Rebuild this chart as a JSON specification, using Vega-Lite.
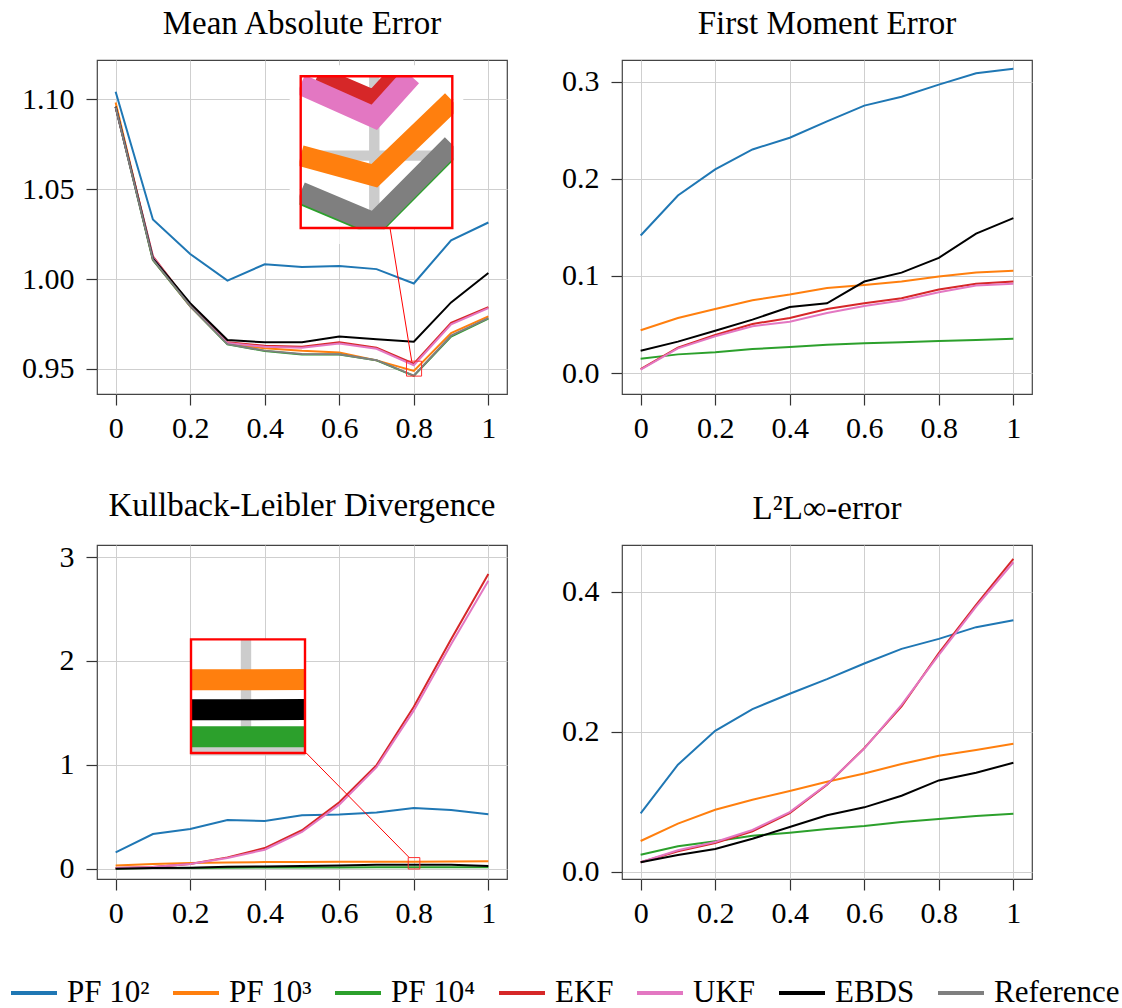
{
  "$schema": "https://vega.github.io/schema/vega-lite/v6.json",
  "padding": {"left": 9, "top": 7, "right": 2, "bottom": 2},
  "config": {
    "font": "Liberation Serif",
    "view": {"stroke": "#444", "strokeWidth": 1.2},
    "axis": {"labelFont": "Liberation Serif", "labelFontSize": 30, "labelColor": "#000", "tickColor": "#333", "tickSize": 11, "tickWidth": 1.2, "domain": false, "gridColor": "#cfcfcf", "gridWidth": 1, "labelPadding": 8, "title": null},
    "axisY": {"labelPadding": 12},
    "title": {"font": "Liberation Serif", "fontSize": 33, "fontWeight": "normal", "color": "#000", "frame": "group", "offset": 19},
    "legend": {"direction": "horizontal", "columns": 7, "symbolType": "stroke", "symbolStrokeWidth": 4, "symbolSize": 2116, "labelFont": "Liberation Serif", "labelFontSize": 31, "labelColor": "#000", "labelOffset": 8, "columnPadding": 15, "title": null, "padding": 0}
  },
  "datasets": {
    "mae": [
      {"method": "PF 10²", "x": 0, "v": 1.1041}, {"method": "PF 10²", "x": 0.1, "v": 1.0331}, {"method": "PF 10²", "x": 0.2, "v": 1.0139}, {"method": "PF 10²", "x": 0.3, "v": 0.9991}, {"method": "PF 10²", "x": 0.4, "v": 1.0082}, {"method": "PF 10²", "x": 0.5, "v": 1.0067}, {"method": "PF 10²", "x": 0.6, "v": 1.0072}, {"method": "PF 10²", "x": 0.7, "v": 1.0055}, {"method": "PF 10²", "x": 0.8, "v": 0.9975}, {"method": "PF 10²", "x": 0.9, "v": 1.0215}, {"method": "PF 10²", "x": 1, "v": 1.0314},
      {"method": "PF 10³", "x": 0, "v": 1.0981}, {"method": "PF 10³", "x": 0.1, "v": 1.0108}, {"method": "PF 10³", "x": 0.2, "v": 0.9848}, {"method": "PF 10³", "x": 0.3, "v": 0.9642}, {"method": "PF 10³", "x": 0.4, "v": 0.9615}, {"method": "PF 10³", "x": 0.5, "v": 0.9601}, {"method": "PF 10³", "x": 0.6, "v": 0.9592}, {"method": "PF 10³", "x": 0.7, "v": 0.9548}, {"method": "PF 10³", "x": 0.8, "v": 0.9489}, {"method": "PF 10³", "x": 0.9, "v": 0.9700}, {"method": "PF 10³", "x": 1, "v": 0.9792},
      {"method": "PF 10⁴", "x": 0, "v": 1.0957}, {"method": "PF 10⁴", "x": 0.1, "v": 1.0105}, {"method": "PF 10⁴", "x": 0.2, "v": 0.9850}, {"method": "PF 10⁴", "x": 0.3, "v": 0.9637}, {"method": "PF 10⁴", "x": 0.4, "v": 0.9600}, {"method": "PF 10⁴", "x": 0.5, "v": 0.9580}, {"method": "PF 10⁴", "x": 0.6, "v": 0.9580}, {"method": "PF 10⁴", "x": 0.7, "v": 0.9548}, {"method": "PF 10⁴", "x": 0.8, "v": 0.9462}, {"method": "PF 10⁴", "x": 0.9, "v": 0.9680}, {"method": "PF 10⁴", "x": 1, "v": 0.9780},
      {"method": "EKF", "x": 0, "v": 1.0957}, {"method": "EKF", "x": 0.1, "v": 1.0126}, {"method": "EKF", "x": 0.2, "v": 0.9856}, {"method": "EKF", "x": 0.3, "v": 0.9648}, {"method": "EKF", "x": 0.4, "v": 0.9629}, {"method": "EKF", "x": 0.5, "v": 0.9624}, {"method": "EKF", "x": 0.6, "v": 0.9648}, {"method": "EKF", "x": 0.7, "v": 0.9618}, {"method": "EKF", "x": 0.8, "v": 0.9530}, {"method": "EKF", "x": 0.9, "v": 0.9756}, {"method": "EKF", "x": 1, "v": 0.9843},
      {"method": "UKF", "x": 0, "v": 1.0955}, {"method": "UKF", "x": 0.1, "v": 1.0122}, {"method": "UKF", "x": 0.2, "v": 0.9852}, {"method": "UKF", "x": 0.3, "v": 0.9645}, {"method": "UKF", "x": 0.4, "v": 0.9623}, {"method": "UKF", "x": 0.5, "v": 0.9618}, {"method": "UKF", "x": 0.6, "v": 0.9641}, {"method": "UKF", "x": 0.7, "v": 0.9612}, {"method": "UKF", "x": 0.8, "v": 0.9521}, {"method": "UKF", "x": 0.9, "v": 0.9748}, {"method": "UKF", "x": 1, "v": 0.9838},
      {"method": "EBDS", "x": 0, "v": 1.0957}, {"method": "EBDS", "x": 0.1, "v": 1.0115}, {"method": "EBDS", "x": 0.2, "v": 0.9866}, {"method": "EBDS", "x": 0.3, "v": 0.9661}, {"method": "EBDS", "x": 0.4, "v": 0.9648}, {"method": "EBDS", "x": 0.5, "v": 0.9648}, {"method": "EBDS", "x": 0.6, "v": 0.9680}, {"method": "EBDS", "x": 0.7, "v": 0.9665}, {"method": "EBDS", "x": 0.8, "v": 0.9652}, {"method": "EBDS", "x": 0.9, "v": 0.9870}, {"method": "EBDS", "x": 1, "v": 1.0033},
      {"method": "Reference", "x": 0, "v": 1.0955}, {"method": "Reference", "x": 0.1, "v": 1.0108}, {"method": "Reference", "x": 0.2, "v": 0.9850}, {"method": "Reference", "x": 0.3, "v": 0.9638}, {"method": "Reference", "x": 0.4, "v": 0.9602}, {"method": "Reference", "x": 0.5, "v": 0.9583}, {"method": "Reference", "x": 0.6, "v": 0.9582}, {"method": "Reference", "x": 0.7, "v": 0.9549}, {"method": "Reference", "x": 0.8, "v": 0.9463}, {"method": "Reference", "x": 0.9, "v": 0.9685}, {"method": "Reference", "x": 1, "v": 0.9783}
    ],
    "mae_inset": [
      {"method": "PF 10³", "x": 0.78034, "v": 0.9500}, {"method": "PF 10³", "x": 0.8, "v": 0.9489}, {"method": "PF 10³", "x": 0.82084, "v": 0.9530},
      {"method": "PF 10⁴", "x": 0.78034, "v": 0.9479}, {"method": "PF 10⁴", "x": 0.8, "v": 0.9462}, {"method": "PF 10⁴", "x": 0.82084, "v": 0.9505},
      {"method": "EKF", "x": 0.78477, "v": 0.95434}, {"method": "EKF", "x": 0.8, "v": 0.9530}, {"method": "EKF", "x": 0.80593, "v": 0.95434},
      {"method": "UKF", "x": 0.78034, "v": 0.95389}, {"method": "UKF", "x": 0.8, "v": 0.9521}, {"method": "UKF", "x": 0.80987, "v": 0.95434},
      {"method": "Reference", "x": 0.78034, "v": 0.9480}, {"method": "Reference", "x": 0.8, "v": 0.9463}, {"method": "Reference", "x": 0.82084, "v": 0.9506}
    ],
    "fme": [
      {"method": "PF 10²", "x": 0, "v": 0.1416}, {"method": "PF 10²", "x": 0.1, "v": 0.1828}, {"method": "PF 10²", "x": 0.2, "v": 0.2096}, {"method": "PF 10²", "x": 0.3, "v": 0.2302}, {"method": "PF 10²", "x": 0.4, "v": 0.2423}, {"method": "PF 10²", "x": 0.5, "v": 0.2591}, {"method": "PF 10²", "x": 0.6, "v": 0.2753}, {"method": "PF 10²", "x": 0.7, "v": 0.2845}, {"method": "PF 10²", "x": 0.8, "v": 0.2969}, {"method": "PF 10²", "x": 0.9, "v": 0.3086}, {"method": "PF 10²", "x": 1, "v": 0.3134},
      {"method": "PF 10³", "x": 0, "v": 0.0440}, {"method": "PF 10³", "x": 0.1, "v": 0.0567}, {"method": "PF 10³", "x": 0.2, "v": 0.0660}, {"method": "PF 10³", "x": 0.3, "v": 0.0749}, {"method": "PF 10³", "x": 0.4, "v": 0.0808}, {"method": "PF 10³", "x": 0.5, "v": 0.0876}, {"method": "PF 10³", "x": 0.6, "v": 0.0907}, {"method": "PF 10³", "x": 0.7, "v": 0.0942}, {"method": "PF 10³", "x": 0.8, "v": 0.0993}, {"method": "PF 10³", "x": 0.9, "v": 0.1034}, {"method": "PF 10³", "x": 1, "v": 0.1052},
      {"method": "PF 10⁴", "x": 0, "v": 0.0148}, {"method": "PF 10⁴", "x": 0.1, "v": 0.0192}, {"method": "PF 10⁴", "x": 0.2, "v": 0.0213}, {"method": "PF 10⁴", "x": 0.3, "v": 0.0247}, {"method": "PF 10⁴", "x": 0.4, "v": 0.0268}, {"method": "PF 10⁴", "x": 0.5, "v": 0.0292}, {"method": "PF 10⁴", "x": 0.6, "v": 0.0306}, {"method": "PF 10⁴", "x": 0.7, "v": 0.0316}, {"method": "PF 10⁴", "x": 0.8, "v": 0.0330}, {"method": "PF 10⁴", "x": 0.9, "v": 0.0340}, {"method": "PF 10⁴", "x": 1, "v": 0.0354},
      {"method": "EKF", "x": 0, "v": 0.0041}, {"method": "EKF", "x": 0.1, "v": 0.0261}, {"method": "EKF", "x": 0.2, "v": 0.0392}, {"method": "EKF", "x": 0.3, "v": 0.0505}, {"method": "EKF", "x": 0.4, "v": 0.0567}, {"method": "EKF", "x": 0.5, "v": 0.0660}, {"method": "EKF", "x": 0.6, "v": 0.0718}, {"method": "EKF", "x": 0.7, "v": 0.0770}, {"method": "EKF", "x": 0.8, "v": 0.0859}, {"method": "EKF", "x": 0.9, "v": 0.0918}, {"method": "EKF", "x": 1, "v": 0.0942},
      {"method": "UKF", "x": 0, "v": 0.0034}, {"method": "UKF", "x": 0.1, "v": 0.0254}, {"method": "UKF", "x": 0.2, "v": 0.0378}, {"method": "UKF", "x": 0.3, "v": 0.0481}, {"method": "UKF", "x": 0.4, "v": 0.0529}, {"method": "UKF", "x": 0.5, "v": 0.0619}, {"method": "UKF", "x": 0.6, "v": 0.0691}, {"method": "UKF", "x": 0.7, "v": 0.0746}, {"method": "UKF", "x": 0.8, "v": 0.0832}, {"method": "UKF", "x": 0.9, "v": 0.0900}, {"method": "UKF", "x": 1, "v": 0.0918},
      {"method": "EBDS", "x": 0, "v": 0.0230}, {"method": "EBDS", "x": 0.1, "v": 0.0323}, {"method": "EBDS", "x": 0.2, "v": 0.0436}, {"method": "EBDS", "x": 0.3, "v": 0.0550}, {"method": "EBDS", "x": 0.4, "v": 0.0680}, {"method": "EBDS", "x": 0.5, "v": 0.0718}, {"method": "EBDS", "x": 0.6, "v": 0.0942}, {"method": "EBDS", "x": 0.7, "v": 0.1034}, {"method": "EBDS", "x": 0.8, "v": 0.1186}, {"method": "EBDS", "x": 0.9, "v": 0.1436}, {"method": "EBDS", "x": 1, "v": 0.1595}
    ],
    "kl": [
      {"method": "PF 10²", "x": 0, "v": 0.158}, {"method": "PF 10²", "x": 0.1, "v": 0.334}, {"method": "PF 10²", "x": 0.2, "v": 0.383}, {"method": "PF 10²", "x": 0.3, "v": 0.469}, {"method": "PF 10²", "x": 0.4, "v": 0.460}, {"method": "PF 10²", "x": 0.5, "v": 0.514}, {"method": "PF 10²", "x": 0.6, "v": 0.521}, {"method": "PF 10²", "x": 0.7, "v": 0.540}, {"method": "PF 10²", "x": 0.8, "v": 0.585}, {"method": "PF 10²", "x": 0.9, "v": 0.566}, {"method": "PF 10²", "x": 1, "v": 0.524},
      {"method": "PF 10³", "x": 0, "v": 0.032}, {"method": "PF 10³", "x": 0.1, "v": 0.045}, {"method": "PF 10³", "x": 0.2, "v": 0.055}, {"method": "PF 10³", "x": 0.3, "v": 0.061}, {"method": "PF 10³", "x": 0.4, "v": 0.064}, {"method": "PF 10³", "x": 0.5, "v": 0.065}, {"method": "PF 10³", "x": 0.6, "v": 0.067}, {"method": "PF 10³", "x": 0.7, "v": 0.068}, {"method": "PF 10³", "x": 0.8, "v": 0.068}, {"method": "PF 10³", "x": 0.9, "v": 0.070}, {"method": "PF 10³", "x": 1, "v": 0.072},
      {"method": "PF 10⁴", "x": 0, "v": 0.003}, {"method": "PF 10⁴", "x": 0.1, "v": 0.006}, {"method": "PF 10⁴", "x": 0.2, "v": 0.008}, {"method": "PF 10⁴", "x": 0.3, "v": 0.010}, {"method": "PF 10⁴", "x": 0.4, "v": 0.011}, {"method": "PF 10⁴", "x": 0.5, "v": 0.012}, {"method": "PF 10⁴", "x": 0.6, "v": 0.012}, {"method": "PF 10⁴", "x": 0.7, "v": 0.013}, {"method": "PF 10⁴", "x": 0.8, "v": 0.013}, {"method": "PF 10⁴", "x": 0.9, "v": 0.013}, {"method": "PF 10⁴", "x": 1, "v": 0.014},
      {"method": "EKF", "x": 0, "v": 0.006}, {"method": "EKF", "x": 0.1, "v": 0.016}, {"method": "EKF", "x": 0.2, "v": 0.045}, {"method": "EKF", "x": 0.3, "v": 0.109}, {"method": "EKF", "x": 0.4, "v": 0.199}, {"method": "EKF", "x": 0.5, "v": 0.370}, {"method": "EKF", "x": 0.6, "v": 0.640}, {"method": "EKF", "x": 0.7, "v": 0.997}, {"method": "EKF", "x": 0.8, "v": 1.559}, {"method": "EKF", "x": 0.9, "v": 2.209}, {"method": "EKF", "x": 1, "v": 2.836},
      {"method": "UKF", "x": 0, "v": 0.006}, {"method": "UKF", "x": 0.1, "v": 0.016}, {"method": "UKF", "x": 0.2, "v": 0.045}, {"method": "UKF", "x": 0.3, "v": 0.103}, {"method": "UKF", "x": 0.4, "v": 0.183}, {"method": "UKF", "x": 0.5, "v": 0.354}, {"method": "UKF", "x": 0.6, "v": 0.617}, {"method": "UKF", "x": 0.7, "v": 0.977}, {"method": "UKF", "x": 0.8, "v": 1.524}, {"method": "UKF", "x": 0.9, "v": 2.161}, {"method": "UKF", "x": 1, "v": 2.772},
      {"method": "EBDS", "x": 0, "v": 0.000}, {"method": "EBDS", "x": 0.1, "v": 0.006}, {"method": "EBDS", "x": 0.2, "v": 0.010}, {"method": "EBDS", "x": 0.3, "v": 0.019}, {"method": "EBDS", "x": 0.4, "v": 0.022}, {"method": "EBDS", "x": 0.5, "v": 0.026}, {"method": "EBDS", "x": 0.6, "v": 0.032}, {"method": "EBDS", "x": 0.7, "v": 0.037}, {"method": "EBDS", "x": 0.8, "v": 0.039}, {"method": "EBDS", "x": 0.9, "v": 0.039}, {"method": "EBDS", "x": 1, "v": 0.026}
    ],
    "kl_inset": [
      {"method": "PF 10³", "x": 0.78495, "v": 0.0682}, {"method": "PF 10³", "x": 0.8, "v": 0.0682}, {"method": "PF 10³", "x": 0.81615, "v": 0.0683},
      {"method": "PF 10⁴", "x": 0.78495, "v": 0.0131}, {"method": "PF 10⁴", "x": 0.8, "v": 0.0131}, {"method": "PF 10⁴", "x": 0.81615, "v": 0.0131},
      {"method": "EBDS", "x": 0.78495, "v": 0.0391}, {"method": "EBDS", "x": 0.8, "v": 0.0392}, {"method": "EBDS", "x": 0.81615, "v": 0.0393}
    ],
    "l2": [
      {"method": "PF 10²", "x": 0, "v": 0.0836}, {"method": "PF 10²", "x": 0.1, "v": 0.1530}, {"method": "PF 10²", "x": 0.2, "v": 0.2014}, {"method": "PF 10²", "x": 0.3, "v": 0.2323}, {"method": "PF 10²", "x": 0.4, "v": 0.2542}, {"method": "PF 10²", "x": 0.5, "v": 0.2750}, {"method": "PF 10²", "x": 0.6, "v": 0.2974}, {"method": "PF 10²", "x": 0.7, "v": 0.3183}, {"method": "PF 10²", "x": 0.8, "v": 0.3325}, {"method": "PF 10²", "x": 0.9, "v": 0.3492}, {"method": "PF 10²", "x": 1, "v": 0.3591},
      {"method": "PF 10³", "x": 0, "v": 0.0442}, {"method": "PF 10³", "x": 0.1, "v": 0.0689}, {"method": "PF 10³", "x": 0.2, "v": 0.0888}, {"method": "PF 10³", "x": 0.3, "v": 0.1031}, {"method": "PF 10³", "x": 0.4, "v": 0.1154}, {"method": "PF 10³", "x": 0.5, "v": 0.1287}, {"method": "PF 10³", "x": 0.6, "v": 0.1406}, {"method": "PF 10³", "x": 0.7, "v": 0.1539}, {"method": "PF 10³", "x": 0.8, "v": 0.1658}, {"method": "PF 10³", "x": 0.9, "v": 0.1739}, {"method": "PF 10³", "x": 1, "v": 0.1829},
      {"method": "PF 10⁴", "x": 0, "v": 0.0247}, {"method": "PF 10⁴", "x": 0.1, "v": 0.0366}, {"method": "PF 10⁴", "x": 0.2, "v": 0.0437}, {"method": "PF 10⁴", "x": 0.3, "v": 0.0518}, {"method": "PF 10⁴", "x": 0.4, "v": 0.0561}, {"method": "PF 10⁴", "x": 0.5, "v": 0.0613}, {"method": "PF 10⁴", "x": 0.6, "v": 0.0656}, {"method": "PF 10⁴", "x": 0.7, "v": 0.0713}, {"method": "PF 10⁴", "x": 0.8, "v": 0.0755}, {"method": "PF 10⁴", "x": 0.9, "v": 0.0798}, {"method": "PF 10⁴", "x": 1, "v": 0.0831},
      {"method": "EKF", "x": 0, "v": 0.0138}, {"method": "EKF", "x": 0.1, "v": 0.0295}, {"method": "EKF", "x": 0.2, "v": 0.0413}, {"method": "EKF", "x": 0.3, "v": 0.0580}, {"method": "EKF", "x": 0.4, "v": 0.0841}, {"method": "EKF", "x": 0.5, "v": 0.1245}, {"method": "EKF", "x": 0.6, "v": 0.1767}, {"method": "EKF", "x": 0.7, "v": 0.2361}, {"method": "EKF", "x": 0.8, "v": 0.3121}, {"method": "EKF", "x": 0.9, "v": 0.3810}, {"method": "EKF", "x": 1, "v": 0.4466},
      {"method": "UKF", "x": 0, "v": 0.0138}, {"method": "UKF", "x": 0.1, "v": 0.0310}, {"method": "UKF", "x": 0.2, "v": 0.0428}, {"method": "UKF", "x": 0.3, "v": 0.0599}, {"method": "UKF", "x": 0.4, "v": 0.0855}, {"method": "UKF", "x": 0.5, "v": 0.1250}, {"method": "UKF", "x": 0.6, "v": 0.1760}, {"method": "UKF", "x": 0.7, "v": 0.2385}, {"method": "UKF", "x": 0.8, "v": 0.3097}, {"method": "UKF", "x": 0.9, "v": 0.3786}, {"method": "UKF", "x": 1, "v": 0.4418},
      {"method": "EBDS", "x": 0, "v": 0.0138}, {"method": "EBDS", "x": 0.1, "v": 0.0242}, {"method": "EBDS", "x": 0.2, "v": 0.0328}, {"method": "EBDS", "x": 0.3, "v": 0.0475}, {"method": "EBDS", "x": 0.4, "v": 0.0641}, {"method": "EBDS", "x": 0.5, "v": 0.0808}, {"method": "EBDS", "x": 0.6, "v": 0.0922}, {"method": "EBDS", "x": 0.7, "v": 0.1088}, {"method": "EBDS", "x": 0.8, "v": 0.1306}, {"method": "EBDS", "x": 0.9, "v": 0.1416}, {"method": "EBDS", "x": 1, "v": 0.1558}
    ]
  },
  "columns": 2,
  "spacing": {"column": 51, "row": 45},
  "concat": [
    {
      "width": 410, "height": 334,
      "title": "Mean Absolute Error",
      "resolve": {"scale": {"x": "independent", "y": "independent"}},
      "layer": [
        {
          "layer": [
            {
              "data": {"name": "mae"},
              "mark": {"type": "line", "strokeWidth": 2, "clip": true},
              "encoding": {
                "x": {"field": "x", "type": "quantitative", "scale": {"domain": [-0.05, 1.05], "nice": false, "zero": false}, "axis": {"values": [0, 0.2, 0.4, 0.6, 0.8, 1], "format": "~g"}},
                "y": {"field": "v", "type": "quantitative", "scale": {"domain": [0.9361, 1.1217], "nice": false, "zero": false}, "axis": {"values": [0.95, 1, 1.05, 1.1], "format": ".2f", "minExtent": 77, "maxExtent": 77}},
                "color": {"field": "method", "type": "nominal", "sort": null, "scale": {"domain": ["PF 10²", "PF 10³", "PF 10⁴", "EKF", "UKF", "EBDS", "Reference"], "range": ["#1f77b4", "#ff7f0e", "#2ca02c", "#d62728", "#e377c2", "#000000", "#7f7f7f"]}, "legend": {"orient": "none", "legendX": -88, "legendY": 908}}
              }
            },
            {
              "data": {"values": [{}]},
              "mark": {"type": "rect", "fill": null, "fillOpacity": 0, "stroke": "#ff3030", "strokeWidth": 1, "clip": true},
              "encoding": {"x": {"datum": 0.78034, "type": "quantitative"}, "x2": {"datum": 0.82084}, "y": {"datum": 0.94604, "type": "quantitative"}, "y2": {"datum": 0.95434}}
            }
          ]
        },
        {
          "layer": [
            {
              "data": {"values": [{}]},
              "mark": {"type": "rect", "fill": "#ffffff", "stroke": null, "clip": true},
              "encoding": {
                "x": {"datum": 0.78034, "type": "quantitative", "scale": {"domain": [0.78034, 0.82084], "range": [203.7, 355.3], "nice": false, "zero": false}, "axis": null},
                "x2": {"datum": 0.82084},
                "y": {"datum": 0.94604, "type": "quantitative", "scale": {"domain": [0.94604, 0.95434], "range": [168, 16.3], "nice": false, "zero": false}, "axis": null},
                "y2": {"datum": 0.95434}
              }
            },
            {
              "data": {"values": [{}]},
              "mark": {"type": "rule", "stroke": "#cccccc", "strokeWidth": 10.4, "clip": true},
              "encoding": {"x": {"datum": 0.8, "type": "quantitative", "axis": null}, "y": {"datum": 0.94604, "type": "quantitative", "axis": null}, "y2": {"datum": 0.95434}}
            },
            {
              "data": {"values": [{}]},
              "mark": {"type": "rule", "stroke": "#cccccc", "strokeWidth": 10.4, "clip": true},
              "encoding": {"y": {"datum": 0.95, "type": "quantitative", "axis": null}, "x": {"datum": 0.78034, "type": "quantitative", "axis": null}, "x2": {"datum": 0.82084}}
            },
            {
              "data": {"name": "mae_inset"},
              "mark": {"type": "line", "strokeWidth": 21, "clip": true},
              "encoding": {
                "x": {"field": "x", "type": "quantitative", "axis": null},
                "y": {"field": "v", "type": "quantitative", "axis": null},
                "color": {"field": "method", "type": "nominal", "sort": null}
              }
            },
            {
              "data": {"values": [{"x": 0.77740, "x2": 0.82378, "y": 0.95441, "y2": 0.95494}, {"x": 0.82116, "x2": 0.82378, "y": 0.94942, "y2": 0.95494}, {"x": 0.77740, "x2": 0.78002, "y": 0.94668, "y2": 0.95494}, {"x": 0.79065, "x2": 0.80935, "y": 0.94517, "y2": 0.94597}]},
              "mark": {"type": "rect", "fill": "#ffffff", "stroke": null, "clip": true},
              "encoding": {"x": {"field": "x", "type": "quantitative", "axis": null}, "x2": {"field": "x2"}, "y": {"field": "y", "type": "quantitative", "axis": null}, "y2": {"field": "y2"}}
            },
            {
              "data": {"values": [{}]},
              "mark": {"type": "rule", "stroke": "#ff0000", "strokeWidth": 1, "clip": true},
              "encoding": {"x": {"datum": 0.8042, "type": "quantitative", "axis": null}, "y": {"datum": 0.94604, "type": "quantitative", "axis": null}, "x2": {"datum": 0.8100}, "y2": {"datum": 0.93875}}
            },
            {
              "data": {"values": [{}]},
              "mark": {"type": "rect", "fill": null, "fillOpacity": 0, "stroke": "#ff0000", "strokeWidth": 2.4, "clip": true},
              "encoding": {"x": {"datum": 0.78034, "type": "quantitative", "axis": null}, "x2": {"datum": 0.82084}, "y": {"datum": 0.94604, "type": "quantitative", "axis": null}, "y2": {"datum": 0.95434}}
            }
          ]
        }
      ]
    },
    {
      "width": 410, "height": 334,
      "title": "First Moment Error",
      "data": {"name": "fme"},
      "mark": {"type": "line", "strokeWidth": 2, "clip": true},
      "encoding": {
        "x": {"field": "x", "type": "quantitative", "scale": {"domain": [-0.05, 1.05], "nice": false, "zero": false}, "axis": {"values": [0, 0.2, 0.4, 0.6, 0.8, 1], "format": "~g"}},
        "y": {"field": "v", "type": "quantitative", "scale": {"domain": [-0.0216, 0.3223], "nice": false, "zero": false}, "axis": {"values": [0, 0.1, 0.2, 0.3], "format": ".1f", "minExtent": 62, "maxExtent": 62}},
        "color": {"field": "method", "type": "nominal", "sort": null}
      }
    },
    {
      "width": 410, "height": 334,
      "title": "Kullback-Leibler Divergence",
      "resolve": {"scale": {"x": "independent", "y": "independent"}},
      "layer": [
        {
          "layer": [
            {
              "data": {"name": "kl"},
              "mark": {"type": "line", "strokeWidth": 2, "clip": true},
              "encoding": {
                "x": {"field": "x", "type": "quantitative", "scale": {"domain": [-0.05, 1.05], "nice": false, "zero": false}, "axis": {"values": [0, 0.2, 0.4, 0.6, 0.8, 1], "format": "~g"}},
                "y": {"field": "v", "type": "quantitative", "scale": {"domain": [-0.099, 3.116], "nice": false, "zero": false}, "axis": {"values": [0, 1, 2, 3], "format": "d", "minExtent": 77, "maxExtent": 77}},
                "color": {"field": "method", "type": "nominal", "sort": null}
              }
            },
            {
              "data": {"values": [{}]},
              "mark": {"type": "rect", "fill": null, "fillOpacity": 0, "stroke": "#ff3030", "strokeWidth": 1, "clip": true},
              "encoding": {"x": {"datum": 0.78495, "type": "quantitative"}, "x2": {"datum": 0.81615}, "y": {"datum": -0.0027, "type": "quantitative"}, "y2": {"datum": 0.1072}}
            },
            {
              "data": {"values": [{}]},
              "mark": {"type": "rule", "stroke": "#ff0000", "strokeWidth": 1, "clip": true},
              "encoding": {"x": {"datum": 0.5108, "type": "quantitative"}, "y": {"datum": 1.116, "type": "quantitative"}, "x2": {"datum": 0.787}, "y2": {"datum": 0.110}}
            }
          ]
        },
        {
          "layer": [
            {
              "data": {"values": [{}]},
              "mark": {"type": "rect", "fill": "#ffffff", "stroke": null, "clip": true},
              "encoding": {
                "x": {"datum": 0.78495, "type": "quantitative", "scale": {"domain": [0.78495, 0.81615], "range": [94, 208], "nice": false, "zero": false}, "axis": null},
                "x2": {"datum": 0.81615},
                "y": {"datum": -0.0027, "type": "quantitative", "scale": {"domain": [-0.0027, 0.1072], "range": [208, 94.4], "nice": false, "zero": false}, "axis": null},
                "y2": {"datum": 0.1072}
              }
            },
            {
              "data": {"values": [{}]},
              "mark": {"type": "rule", "stroke": "#cccccc", "strokeWidth": 10.4, "clip": true},
              "encoding": {"x": {"datum": 0.8, "type": "quantitative", "axis": null}, "y": {"datum": -0.0027, "type": "quantitative", "axis": null}, "y2": {"datum": 0.1072}}
            },
            {
              "data": {"values": [{}]},
              "mark": {"type": "rule", "stroke": "#cccccc", "strokeWidth": 10.4, "clip": true},
              "encoding": {"y": {"datum": 0, "type": "quantitative", "axis": null}, "x": {"datum": 0.78495, "type": "quantitative", "axis": null}, "x2": {"datum": 0.81615}}
            },
            {
              "data": {"name": "kl_inset"},
              "mark": {"type": "line", "strokeWidth": 21, "clip": true},
              "encoding": {
                "x": {"field": "x", "type": "quantitative", "axis": null},
                "y": {"field": "v", "type": "quantitative", "axis": null},
                "color": {"field": "method", "type": "nominal", "sort": null}
              }
            },
            {
              "data": {"values": [{}]},
              "mark": {"type": "rect", "fill": null, "fillOpacity": 0, "stroke": "#ff0000", "strokeWidth": 2.4, "clip": true},
              "encoding": {"x": {"datum": 0.78495, "type": "quantitative", "axis": null}, "x2": {"datum": 0.81615}, "y": {"datum": -0.0027, "type": "quantitative", "axis": null}, "y2": {"datum": 0.1072}}
            }
          ]
        }
      ]
    },
    {
      "width": 410, "height": 334,
      "title": "L²L∞-error",
      "data": {"name": "l2"},
      "mark": {"type": "line", "strokeWidth": 2, "clip": true},
      "encoding": {
        "x": {"field": "x", "type": "quantitative", "scale": {"domain": [-0.05, 1.05], "nice": false, "zero": false}, "axis": {"values": [0, 0.2, 0.4, 0.6, 0.8, 1], "format": "~g"}},
        "y": {"field": "v", "type": "quantitative", "scale": {"domain": [-0.01, 0.4664], "nice": false, "zero": false}, "axis": {"values": [0, 0.2, 0.4], "format": ".1f", "minExtent": 62, "maxExtent": 62}},
        "color": {"field": "method", "type": "nominal", "sort": null}
      }
    }
  ]
}
